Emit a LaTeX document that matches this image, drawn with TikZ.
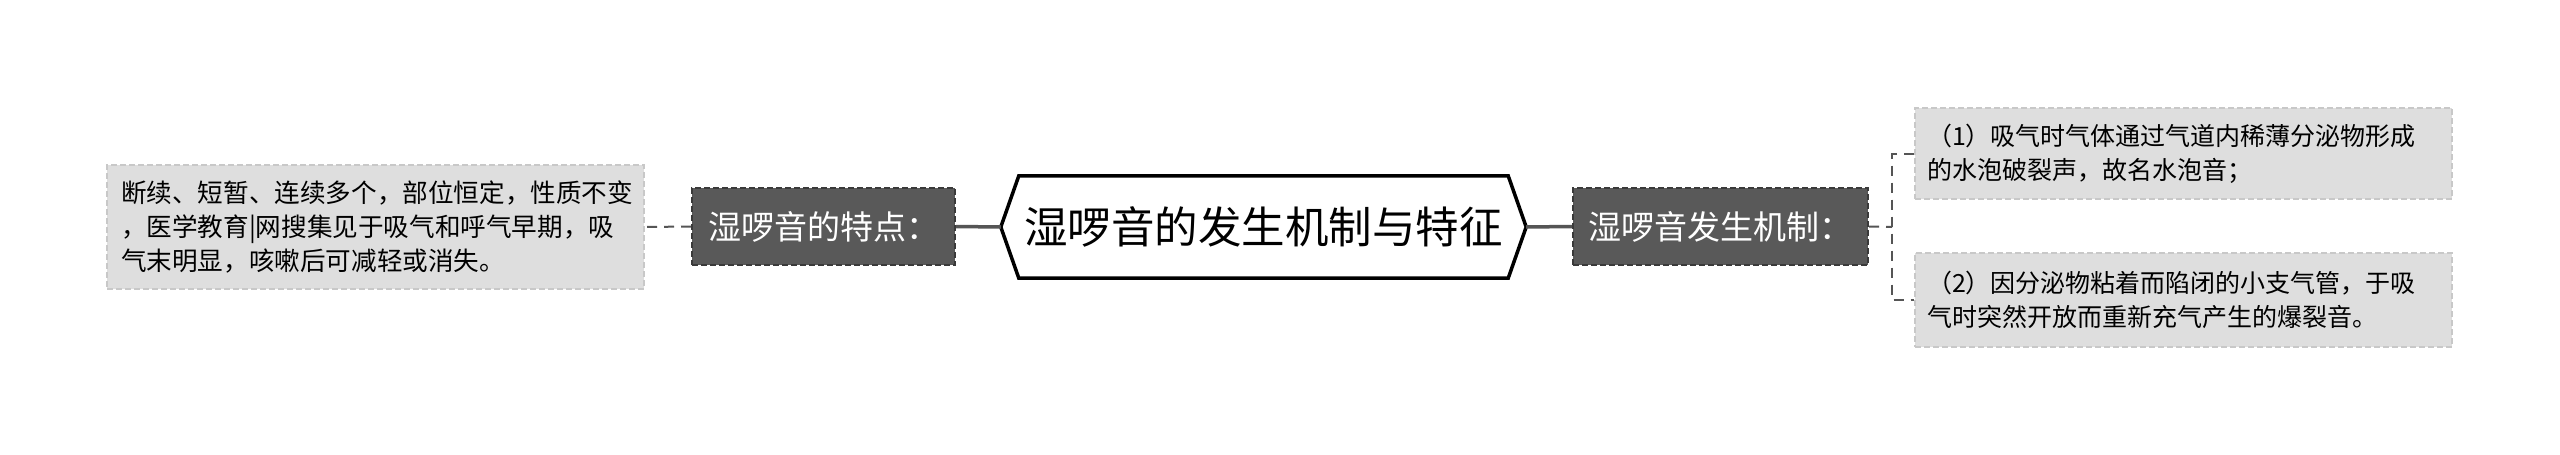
\documentclass[tikz,border=0pt]{standalone}
\usepackage{fontspec}
\setmainfont{Noto Sans CJK SC}
\usetikzlibrary{calc}
\definecolor{leafgray}{HTML}{DEDEDE}
\definecolor{leafedge}{HTML}{C8C8C8}
\definecolor{darkgray}{HTML}{595959}
\definecolor{darkedge}{HTML}{3A3A3A}
\definecolor{linkgray}{HTML}{555555}
\tikzset{
	leafbox/.style={fill=leafgray, draw=leafedge, line width=2pt, dash pattern=on 6pt off 3pt,
		align=left, inner sep=0pt, font=\fontsize{25.6}{34}\selectfont},
	darkbox/.style={fill=darkgray, draw=darkedge, line width=2pt, dash pattern=on 6pt off 3pt,
		text=white, inner sep=0pt, font=\fontsize{33}{38}\selectfont},
	hexbox/.style={inner sep=0pt, font=\fontsize{43.5}{50}\selectfont},
	hexline/.style={line width=3.5pt, line join=miter, fill=white},
	solidlink/.style={line width=3.5pt, color=linkgray},
	dashlink/.style={line width=2pt, color=linkgray, dash pattern=on 10pt off 7pt}
}

\begin{document}
\begin{tikzpicture}[x=1pt,y=-1pt]
			%%%%% START %%%%%
			
			\useasboundingbox[fill=white] (0,0) rectangle (2560,455);
			
			% central topic
			\node[hexbox, minimum width=525pt, minimum height=102pt] (root) at (1263.5, 227) {};
			\draw[hexline] ([xshift=18pt]root.north west) -- ([xshift=-18pt]root.north east) -- (root.east)
				-- ([xshift=-18pt]root.south east) -- ([xshift=18pt]root.south west) -- (root.west) -- cycle;
			\node[hexbox] (roottext) at (root.center) {湿啰音的发生机制与特征};
			
			% left branch
			\node[darkbox, minimum width=263pt, minimum height=77pt] (feat) at (823.5, 226.5) {湿啰音的特点：};
			\node[leafbox, minimum width=537pt, minimum height=124pt, text width=509pt] (featleaf) at (375.5, 227)
				{断续、短暂、连续多个，部位恒定，性质不变\\，医学教育|网搜集见于吸气和呼气早期，吸\\气末明显，咳嗽后可减轻或消失。};
			
			% right branch
			\node[darkbox, minimum width=295pt, minimum height=77pt] (mech) at (1720.5, 226.5) {湿啰音发生机制：};
			\node[leafbox, font=\fontsize{25}{34}\selectfont, minimum width=537pt, minimum height=91pt, text width=513pt] (mechA) at (2183.5, 153.5)
				{（1）吸气时气体通过气道内稀薄分泌物形成\\的水泡破裂声，故名水泡音；};
			\node[leafbox, font=\fontsize{25}{34}\selectfont, minimum width=537pt, minimum height=94pt, text width=513pt] (mechB) at (2183.5, 300)
				{（2）因分泌物粘着而陷闭的小支气管，于吸\\气时突然开放而重新充气产生的爆裂音。};
			\coordinate (fork) at (1892, 227);
			
			% links
			\draw[solidlink] (root.west) -- (feat.east);
			\draw[solidlink] (root.east) -- (mech.west);
			\draw[dashlink] (feat.west) -- (featleaf.east);
			\draw[dashlink] (mech.east) -- (fork);
			\draw[dashlink] (mechA.west) -| (fork) |- (mechB.west);
			
			%%%%% END %%%%%
		\end{tikzpicture}
\end{document}
